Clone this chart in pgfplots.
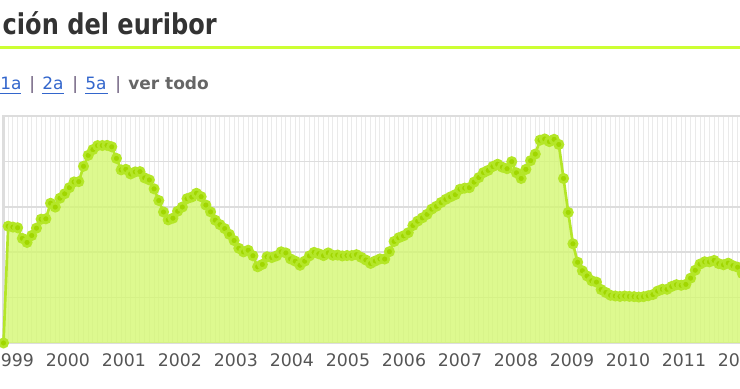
\documentclass[border=0pt]{standalone}
\usepackage{fontspec}
\setmainfont{DejaVu Sans}
\newfontfamily\titlefont[FakeStretch=0.84]{DejaVu Sans}
\usepackage{pgfplots}
\usepackage{pgfplotstable}
\pgfplotsset{compat=1.18}
\definecolor{dotgreen}{RGB}{160,214,0}
\definecolor{linegreen}{RGB}{180,230,40}
\definecolor{fillgreen}{RGB}{212,247,112}
\definecolor{gridgray}{RGB}{221,221,221}
\definecolor{vgrid}{RGB}{234,234,234}
\definecolor{titlecol}{RGB}{51,51,51}
\definecolor{barcol}{RGB}{204,255,51}
\definecolor{linkblue}{RGB}{51,102,204}
\definecolor{sepcol}{RGB}{106,90,122}
\definecolor{labgray}{RGB}{85,85,85}
\definecolor{vergray}{RGB}{102,102,102}

\pgfplotstableread{
i v
-1 0
0 3.087
1 3.064
2 3.046
3 2.765
4 2.658
5 2.841
6 3.036
7 3.273
8 3.283
9 3.694
10 3.592
11 3.828
12 3.945
13 4.106
14 4.258
15 4.265
16 4.671
17 4.960
18 5.112
19 5.218
20 5.220
21 5.224
22 5.186
23 4.880
24 4.576
25 4.590
26 4.468
27 4.523
28 4.530
29 4.363
30 4.311
31 4.075
32 3.766
33 3.463
34 3.254
35 3.299
36 3.483
37 3.594
38 3.815
39 3.859
40 3.958
41 3.868
42 3.646
43 3.466
44 3.246
45 3.128
46 3.024
47 2.872
48 2.709
49 2.503
50 2.408
51 2.452
52 2.307
53 2.014
54 2.077
55 2.279
56 2.258
57 2.303
58 2.410
59 2.380
60 2.222
61 2.163
62 2.055
63 2.163
64 2.302
65 2.396
66 2.358
67 2.310
68 2.381
69 2.318
70 2.325
71 2.301
72 2.312
73 2.311
74 2.335
75 2.265
76 2.193
77 2.103
78 2.168
79 2.223
80 2.220
81 2.414
82 2.684
83 2.783
84 2.833
85 2.914
86 3.105
87 3.221
88 3.308
89 3.401
90 3.539
91 3.615
92 3.715
93 3.799
94 3.864
95 3.921
96 4.064
97 4.094
98 4.106
99 4.253
100 4.373
101 4.505
102 4.564
103 4.666
104 4.725
105 4.647
106 4.607
107 4.793
108 4.498
109 4.349
110 4.590
111 4.820
112 4.994
113 5.361
114 5.393
115 5.323
116 5.384
117 5.248
118 4.350
119 3.452
120 2.622
121 2.135
122 1.909
123 1.771
124 1.644
125 1.610
126 1.412
127 1.334
128 1.261
129 1.243
130 1.231
131 1.242
132 1.232
133 1.225
134 1.215
135 1.225
136 1.249
137 1.281
138 1.373
139 1.421
140 1.420
141 1.495
142 1.541
143 1.526
144 1.550
145 1.714
146 1.924
147 2.086
148 2.147
149 2.144
150 2.183
151 2.097
152 2.067
153 2.110
154 2.044
155 2.004
156 1.837
157 1.678
}\euribor

\begin{document}
\begin{tikzpicture}
\begin{axis}[
  scale only axis,
  width=558.375pt, height=170.25pt,
  xmin=-1, xmax=157.2, ymin=0, ymax=6,
  clip=false,
  axis line style={draw=gridgray, line width=1.6pt},
  ytick={1.2,2.4,3.6,4.8},
  yticklabels={},
  ymajorgrids=true,
  major grid style={draw=gridgray, line width=1.3pt},
  minor xtick={-1,0,...,157},
  xminorgrids=true,
  minor grid style={draw=vgrid, line width=0.75pt},
  xtick={0.8,12.7,24.6,36.5,48.4,60.3,72.2,84.1,96.0,107.9,119.8,131.7,143.6,155.5},
  xticklabels={1999,2000,2001,2002,2003,2004,2005,2006,2007,2008,2009,2010,2011,2012},
  major tick length=0pt, minor tick length=0pt,
  x tick label style={font=\fontsize{13pt}{15pt}\selectfont, text=labgray, anchor=north, inner sep=0pt, yshift=-7.5pt},
]
\addplot[draw=none, fill=fillgreen, fill opacity=0.78] table[x=i,y=v]{\euribor} \closedcycle;
\addplot[linegreen, line width=2pt, mark=*, mark size=3.1pt, mark options={draw=none, fill=dotgreen}] table[x=i,y=v]{\euribor};
\coordinate (O) at (rel axis cs:0,0);
\end{axis}
\begin{scope}[shift={(O)}, x=0.75pt, y=0.75pt]
% title
\node[anchor=base east, inner sep=0pt, font=\titlefont\bfseries\fontsize{21.5pt}{25pt}\selectfont, text=titlecol] at (213.5,308) {ción del euribor};
\draw[barcol, line width=2.25pt] (-3.5,295.2) -- (736.5,295.2);
% links
\begin{scope}[every node/.style={anchor=base west, inner sep=0pt, font=\fontsize{12.75pt}{15pt}\selectfont}]
\node[text=linkblue] at (-3.5,253) {1a};
\node[text=sepcol] at (25.5,253) {|};
\node[text=linkblue] at (38.5,253) {2a};
\node[text=sepcol] at (68.5,253) {|};
\node[text=linkblue] at (81.5,253) {5a};
\node[text=sepcol] at (111.5,253) {|};
\node[text=vergray, font=\bfseries\fontsize{12.75pt}{15pt}\selectfont] at (124.5,253) {ver todo};
\end{scope}
\draw[linkblue, line width=0.75pt] (-3.5,249.5) -- (17.5,249.5);
\draw[linkblue, line width=0.75pt] (38.5,249.5) -- (60.5,249.5);
\draw[linkblue, line width=0.75pt] (81.5,249.5) -- (104.5,249.5);
\pgfresetboundingbox
\useasboundingbox (-3.5,-46) rectangle (736.5,343);
\end{scope}
\end{tikzpicture}
\end{document}
